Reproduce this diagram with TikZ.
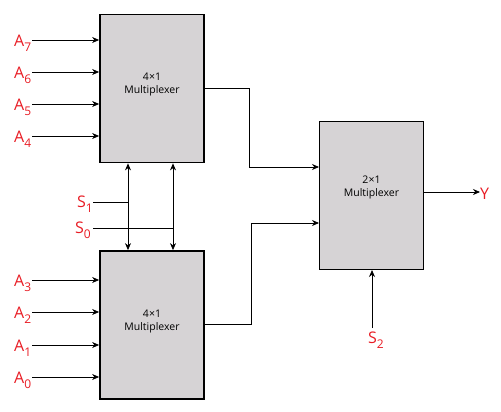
\documentclass[tikz,border=0pt]{standalone}
\usepackage{fontspec}
\setmainfont{Open Sans}
\usetikzlibrary{arrows.meta}
\definecolor{boxfill}{RGB}{214,211,213}
\definecolor{labred}{RGB}{232,28,36}
\newcommand\sig[2]{#1\raisebox{-0.32em}{\fontsize{12}{12}\selectfont #2}}
\begin{document}
\begin{tikzpicture}[x=1pt,y=-1pt,
  mux/.style={draw=black,line width=1.8pt,fill=boxfill,minimum width=104pt,minimum height=148pt,inner sep=0pt},
  muxtxt/.style={align=center,inner sep=0pt,font=\fontsize{10.5}{13}\selectfont},
  lbl/.style={text=labred,font=\fontsize{16}{16}\selectfont,inner sep=0pt},
  wire/.style={line width=0.8pt,-{Stealth[length=7pt,width=6pt]}},
  plain/.style={line width=0.8pt},
  dwire/.style={line width=0.8pt,{Stealth[length=7pt,width=6pt]}-{Stealth[length=7pt,width=6pt]}}]
\useasboundingbox (0,0) rectangle (501,412);
\node[mux] (m1) at (152,88.5) {};
\node[mux] (m0) at (152,325) {};
\node[mux] (m2) at (371.5,195.5) {};
\node[muxtxt] (m1t) at ([yshift=4pt]m1.center) {4×1\\Multiplexer};
\node[muxtxt] (m0t) at ([yshift=3.5pt]m0.center) {4×1\\Multiplexer};
\node[muxtxt] (m2t) at ([yshift=8pt]m2.center) {2×1\\Multiplexer};
% inputs top
\foreach \n/\y in {7/40,6/72,5/104,4/136}{
  \node[lbl,anchor=west] (a\n) at (14,\y+3) {\sig{A}{\n}};
  \coordinate (ia\n) at (32,\y);
  \draw[wire] (ia\n) -- (ia\n -| m1.west);
}
\foreach \n/\y in {3/280,2/312,1/345,0/377}{
  \node[lbl,anchor=west] (a\n) at (14,\y+3) {\sig{A}{\n}};
  \coordinate (ia\n) at (32,\y);
  \draw[wire] (ia\n) -- (ia\n -| m0.west);
}
% select lines
\coordinate (v1t) at (128,163);
\coordinate (v0t) at (173,163);
\draw[dwire] (v1t |- m1.south) -- (v1t |- m0.north);
\draw[dwire] (v0t |- m1.south) -- (v0t |- m0.north);
\node[lbl,anchor=west] (s1) at (77,204) {\sig{S}{1}};
\node[lbl,anchor=west] (s0) at (75,230) {\sig{S}{0}};
\coordinate (s1e) at (93,202);
\coordinate (s0e) at (93,228);
\draw[plain] (s1e) -- (s1e -| v1t);
\draw[plain] (s0e) -- (s0e -| v0t);
% outputs
\coordinate (o1) at (204,88);
\coordinate (i1) at (319,167);
\draw[wire] (o1) -| (249,167) -- (i1);
\coordinate (o0) at (204,324);
\coordinate (i0) at (319,223);
\draw[wire] (o0) -| (251,223) -- (i0);
\node[lbl,anchor=west] (y) at (480,194) {Y};
\draw[wire] (m2.east |- 0,192) -- (y.west |- 0,192);
\node[lbl] (s2) at (376,340) {\sig{S}{2}};
\draw[wire] (372,328) -- (372,270);
\end{tikzpicture}
\end{document}
